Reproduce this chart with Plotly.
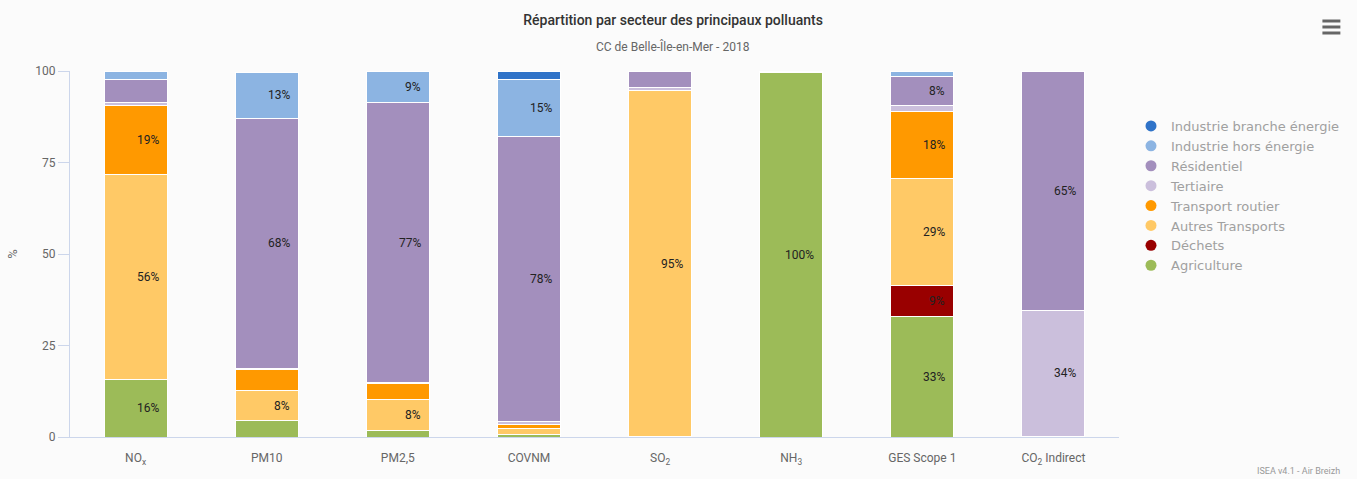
import plotly.graph_objects as go

# Pollutants (x categories) and their axis labels
categories = ["NOx", "PM10", "PM2.5", "COVNM", "SO2", "NH3", "GES Scope 1", "CO2 Indirect"]
tick_labels = ["NO<sub>x</sub>", "PM10", "PM2,5", "COVNM", "SO<sub>2</sub>", "NH<sub>3</sub>",
               "GES Scope 1", "CO<sub>2</sub> Indirect"]

# Share of each sector (%) per pollutant
industrie_branche_energie = [0.0, 0.0, 0.0, 2.4, 0.0, 0.0, 0.0, 0.0]
industrie_hors_energie = [2.2, 12.6, 8.6, 15.4, 0.0, 0.0, 1.6, 0.0]
residentiel = [6.3, 68.3, 76.6, 78.1, 4.4, 0.0, 7.8, 65.4]
tertiaire = [0.8, 0.3, 0.2, 0.6, 0.8, 0.0, 1.8, 34.4]
transport_routier = [19.1, 5.8, 4.3, 1.3, 0.1, 0.0, 18.1, 0.2]
autres_transports = [55.8, 8.3, 8.5, 1.6, 94.6, 0.5, 29.3, 0.0]
dechets = [0.0, 0.0, 0.0, 0.0, 0.0, 0.0, 8.6, 0.0]
agriculture = [15.8, 4.4, 1.8, 0.6, 0.1, 99.5, 32.8, 0.0]

# Sectors from the bottom of the stack upwards
sectors = [
    ("Agriculture", agriculture, "#9cbb58"),
    ("Déchets", dechets, "#990000"),
    ("Autres Transports", autres_transports, "#ffc966"),
    ("Transport routier", transport_routier, "#ff9900"),
    ("Tertiaire", tertiaire, "#cbbfdc"),
    ("Résidentiel", residentiel, "#a38fbd"),
    ("Industrie hors énergie", industrie_hors_energie, "#8cb4e2"),
    ("Industrie branche énergie", industrie_branche_energie, "#2f73c8"),
]

LABEL_MIN = 7.5  # segments smaller than this get no value label

fig = go.Figure()
cumulative = [0.0] * len(categories)
annotations = []
for name, values, color in sectors:
    fig.add_trace(go.Bar(
        x=categories, y=values, name=name, legendgroup=name, showlegend=False,
        marker=dict(color=color, line=dict(color="white", width=1)),
        hovertemplate="%{x}<br>" + name + " : %{y:.1f} %<extra></extra>",
    ))
    # round legend symbol for the sector
    fig.add_trace(go.Scatter(
        x=[None], y=[None], mode="markers", name=name, legendgroup=name,
        marker=dict(color=color, size=11, symbol="circle"),
        hoverinfo="skip",
    ))
    for i, v in enumerate(values):
        if v >= LABEL_MIN:
            annotations.append(dict(
                x=categories[i], y=cumulative[i] + v / 2, xref="x", yref="y",
                text=f"{v:.0f}%", showarrow=False, xanchor="right", yanchor="middle",
                xshift=25, font=dict(family="Roboto", size=12, color="#222222"),
            ))
        cumulative[i] += v

annotations += [
    dict(text="CC de Belle-Île-en-Mer - 2018", xref="paper", yref="paper",
         x=0.575, y=1.066, xanchor="center", yanchor="middle", showarrow=False,
         font=dict(family="Roboto", size=12, color="#666666")),
    dict(text="ISEA v4.1 - Air Breizh", xref="paper", yref="paper",
         x=1.213, y=-0.093, xanchor="right", yanchor="middle", showarrow=False,
         font=dict(family="Roboto", size=9, color="#999999")),
]

# export-menu icon (three bars) in the top-right corner
menu_bars = [dict(type="line", xref="paper", yref="paper",
                  x0=(1324 - 68) / 1052, x1=(1342 - 68) / 1052,
                  y0=(437 - py) / 366, y1=(437 - py) / 366,
                  line=dict(color="#666666", width=3))
             for py in (21, 27, 33)]

fig.update_layout(
    width=1357, height=479,
    margin=dict(l=68, r=237, t=71, b=42),
    paper_bgcolor="#fbfbfb", plot_bgcolor="#fbfbfb",
    barmode="stack", bargap=0.52,
    title=dict(text="Répartition par secteur des principaux polluants",
               x=0.496, xref="container", xanchor="center",
               y=1 - 20 / 479, yref="container", yanchor="middle",
               font=dict(family="Roboto", size=14, color="#333333", weight=500)),
    legend=dict(x=1131 / 1357, xref="container", xanchor="left",
                y=(479 - 196) / 479, yref="container", yanchor="middle",
                traceorder="reversed", bgcolor="rgba(0,0,0,0)",
                font=dict(family="DejaVu Sans", size=13, color="#a0a0a0"),
                itemwidth=30),
    annotations=annotations,
    shapes=menu_bars,
    showlegend=True,
)

fig.update_xaxes(
    tickvals=categories, ticktext=tick_labels,
    showline=True, linecolor="#ccd6eb", linewidth=1,
    showgrid=False, ticks="", ticklabelstandoff=10,
    tickfont=dict(family="Roboto", size=12, color="#666666"),
)
fig.update_yaxes(
    range=[0, 100], tickvals=[0, 25, 50, 75, 100],
    showline=True, linecolor="#ccd6eb", linewidth=1,
    ticks="outside", ticklen=11, tickcolor="#ccd6eb",
    showgrid=False, zeroline=False,
    tickfont=dict(family="Roboto", size=12, color="#666666"),
    title=dict(text="%", standoff=14, font=dict(family="Roboto", size=13, color="#666666")),
)

fig.write_html("out.html", config={"displayModeBar": False})
